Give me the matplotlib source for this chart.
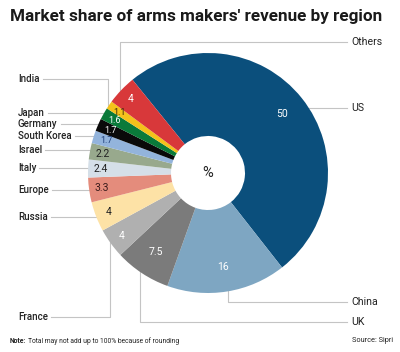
import numpy as np
import matplotlib
matplotlib.use("Agg")
import matplotlib.pyplot as plt

# ----------------------------------------------
# Datos (en %), en orden horario desde el inicio de "US"
# ----------------------------------------------
regions = ["US", "China", "UK", "France", "Russia", "Europe", "Italy",
           "Israel", "South Korea", "Germany", "Japan", "India", "Others"]
shares = [50, 16, 7.5, 4, 4, 3.3, 2.4, 2.2, 1.7, 1.7, 1.6, 1.1, 4]
value_labels = ["50", "16", "7.5", "4", "4", "3.3", "2.4", "2.2",
                "1.7", "1.7", "1.6", "1.1", "4"]
colors = ["#0b4f7c", "#7ea6c2", "#7b7b7b", "#b0b0b0", "#fde2a6", "#e48c7c",
          "#d5dfe8", "#98a98d", "#93b4dc", "#0a0a0a", "#0a7a3a", "#f4c21b",
          "#d8383a"]
text_colors = ["white", "white", "white", "white", "#222222", "#3a1c1c",
               "#222222", "#222222", "#1f3f7a", "white", "white", "#3a2a00",
               "white"]

plt.rcParams['font.family'] = ['Roboto', 'DejaVu Sans']

W, H = 400, 352
fig = plt.figure(figsize=(W / 100, H / 100), dpi=100)
ax = fig.add_axes([0, 0, 1, 1])

# pie in pixel-like coordinates (y hacia arriba)
cx, cy, R = 208, H - 173, 120
wedges, _ = ax.pie(shares, colors=colors, startangle=129, counterclock=False,
                   radius=R, center=(cx, cy), normalize=True,
                   wedgeprops=dict(width=83, edgecolor='none', zorder=3))
ax.set_xlim(0, W)
ax.set_ylim(0, H)
ax.set_aspect('equal')
ax.axis('off')

# valores dentro de las porciones
for w, lab, tc, v in zip(wedges, value_labels, text_colors, shares):
    ang = np.deg2rad((w.theta1 + w.theta2) / 2)
    r = 107 if v < 5 else 95
    fs = 6.5 if v < 2 else 7.5
    ax.text(cx + r * np.cos(ang), cy + r * np.sin(ang), lab, color=tc,
            fontsize=fs, ha='center', va='center', zorder=5)

ax.text(cx, cy, "%", fontsize=10.5, ha='center', va='center', color='#222222')

# ----------------------------------------------
# Etiquetas con líneas guía
# ----------------------------------------------
line_kw = dict(color='#c4c4c4', lw=0.8, zorder=1)
# izquierda: (nombre, y en píxeles, x del codo o None)
left = [("India", 79, 108), ("Japan", 113, None), ("Germany", 124, None),
        ("South Korea", 136, None), ("Israel", 150, None), ("Italy", 168, None),
        ("Europe", 190, None), ("Russia", 217, None), ("France", 317, 110)]
right = [("Others", 42, 120), ("US", 108, None), ("China", 302, 228),
         ("UK", 322, 140)]

fig.canvas.draw()
rend = fig.canvas.get_renderer()
inv = ax.transData.inverted()

def circle_x(py, side):
    dy = (H - py) - cy
    return cx + side * np.sqrt(max(R * R - dy * dy, 0)) * 0.97

def circle_y(x):
    dx = x - cx
    return np.sqrt(max(R * R - dx * dx, 0)) * 0.97

for name, py, elbow in left:
    t = ax.text(18, H - py, name, fontsize=7, fontweight='medium',
                ha='left', va='center', color='#222222')
    bb = t.get_window_extent(rend)
    x0 = inv.transform((bb.x1, 0))[0] + 3
    y = H - py
    if elbow is None:
        ax.plot([x0, circle_x(py, -1)], [y, y], **line_kw)
    else:
        yc = circle_y(elbow)
        ye = cy + yc if y > cy else cy - yc
        ax.plot([x0, elbow, elbow], [y, y, ye], **line_kw)

for name, py, elbow in right:
    t = ax.text(351, H - py, name, fontsize=7.6, ha='left', va='center',
                color='#222222')
    x1 = 347
    y = H - py
    if elbow is None:
        ax.plot([circle_x(py, 1), x1], [y, y], **line_kw)
    else:
        yc = circle_y(elbow)
        ye = cy + yc if y > cy else cy - yc
        ax.plot([x1, elbow, elbow], [y, y, ye], **line_kw)

# título y notas
fig.text(10 / W, 1 - 17 / H, "Market share of arms makers' revenue by region",
         fontsize=12.3, fontweight='bold', ha='left', va='center',
         color='#1a1a1a')
t1 = fig.text(10 / W, 1 - 341 / H, "Note:", fontsize=4.9, fontweight='bold',
              ha='left', va='center', color='#222222')
bb = t1.get_window_extent(rend)
fig.text((bb.x1 + 1.5) / W, 1 - 341 / H,
         "Total may not add up to 100% because of rounding",
         fontsize=4.9, ha='left', va='center', color='#222222')
fig.text(393 / W, 1 - 341 / H, "Source: Sipri", fontsize=5.3, ha='right',
         va='center', color='#222222')

fig.savefig("out.png", dpi=100)
plt.close(fig)
